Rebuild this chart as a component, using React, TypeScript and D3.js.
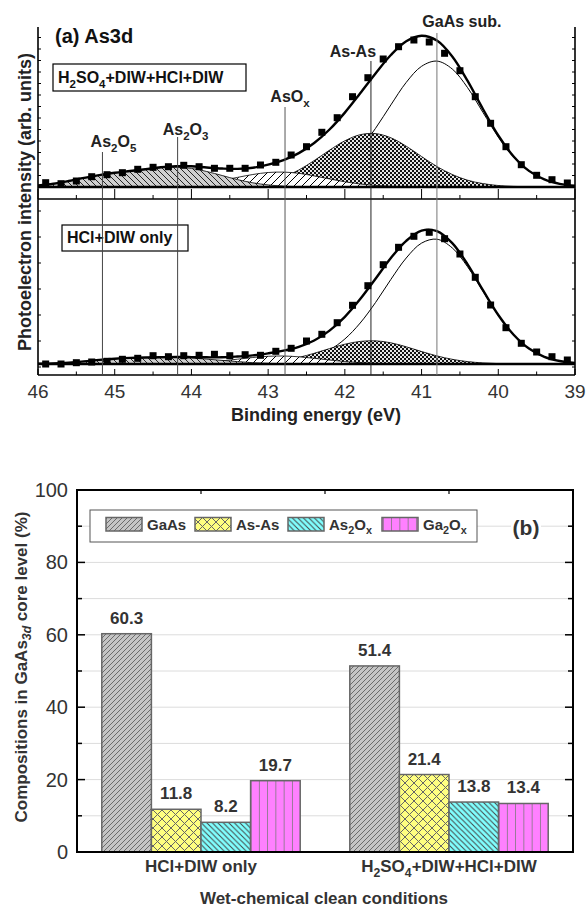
import React from 'react';
import * as d3 from 'd3';

// ---- (a) As3d spectra ----
// measured points, binding energy (eV)
const dataEnergy = [45.9, 45.7, 45.5, 45.3, 45.1, 44.9, 44.7, 44.5, 44.3, 44.1, 43.9, 43.7, 43.5, 43.3, 43.1, 42.9, 42.7, 42.5, 42.3, 42.1, 41.9, 41.7, 41.5, 41.3, 41.1, 40.9, 40.7, 40.5, 40.3, 40.1, 39.9, 39.7, 39.5, 39.3, 39.1];
const upperData = [4.3, 3.3, 6, 10.3, 12.3, 14.3, 17.7, 19.7, 20.3, 21.7, 20.3, 18.7, 18.7, 18.7, 22, 24.7, 32, 40.3, 54.7, 69.3, 90.3, 109.3, 128, 140.3, 147, 145, 133.7, 116.3, 90.3, 63.7, 40.3, 22.3, 11.7, 7.3, 4];
const lowerData = [0, 0, 1.3, 2, 2.7, 4.7, 5.7, 8.3, 7.3, 8.3, 8.7, 9.7, 8.3, 9.3, 8.7, 12.7, 15.7, 23, 29.7, 41.3, 58.7, 78.3, 99.3, 116.7, 127.7, 131.7, 125.3, 110, 86.7, 59, 36.3, 20.7, 12, 7.3, 4];

// fitted components, read on a 0.2 eV grid
const fitEnergy = [46.0, 45.8, 45.6, 45.4, 45.2, 45.0, 44.8, 44.6, 44.4, 44.2, 44.0, 43.8, 43.6, 43.4, 43.2, 43.0, 42.8, 42.6, 42.4, 42.2, 42.0, 41.8, 41.6, 41.4, 41.2, 41.0, 40.8, 40.6, 40.4, 40.2, 40.0, 39.8, 39.6, 39.4, 39.2, 39.0];

const upperAs2O5 = [1.5, 3.1, 5.4, 7.7, 8.9, 8.5, 6.6, 4.2, 2.2, 0.9, 0.3, 0, 0, 0, 0, 0, 0, 0, 0, 0, 0, 0, 0, 0, 0, 0, 0, 0, 0, 0, 0, 0, 0, 0, 0, 0];
const upperAs2O3 = [0.1, 0.2, 0.6, 1.4, 3.0, 5.7, 9.4, 13.6, 17.1, 18.9, 18.3, 15.5, 11.5, 7.4, 4.2, 2.1, 0.9, 0.3, 0.1, 0, 0, 0, 0, 0, 0, 0, 0, 0, 0, 0, 0, 0, 0, 0, 0, 0];
const upperAsOx = [0, 0, 0, 0, 0, 0, 0, 0, 0.4, 1.0, 2.1, 4.0, 6.6, 9.6, 12.5, 14.5, 14.9, 13.7, 11.1, 8.1, 5.2, 3.0, 1.5, 0.7, 0.3, 0.1, 0, 0, 0, 0, 0, 0, 0, 0, 0, 0];
const upperAsAs = [0, 0, 0, 0, 0, 0, 0, 0, 0, 0, 0, 0, 0.4, 1.1, 2.5, 5.2, 9.9, 17.0, 26.4, 36.8, 46.2, 52.3, 53.4, 49.2, 40.8, 30.5, 20.5, 12.5, 6.8, 3.4, 1.5, 0.6, 0.2, 0, 0, 0];
const upperGaAs = [0, 0, 0, 0, 0, 0, 0, 0, 0, 0, 0, 0, 0, 0, 0, 0.5, 1.2, 2.9, 6.4, 12.6, 23.0, 38.4, 58.7, 82.1, 104.6, 120.7, 125.9, 118.0, 99.3, 74.6, 50.0, 29.9, 15.9, 7.6, 3.2, 1.2];

const lowerAs2O5 = [0.2, 0.6, 1.2, 2.2, 3.1, 3.5, 3.1, 2.2, 1.2, 0.6, 0.2, 0, 0, 0, 0, 0, 0, 0, 0, 0, 0, 0, 0, 0, 0, 0, 0, 0, 0, 0, 0, 0, 0, 0, 0, 0];
const lowerAs2O3 = [0, 0, 0.2, 0.4, 1.0, 1.8, 3.0, 4.3, 5.4, 6.0, 5.8, 4.9, 3.6, 2.4, 1.3, 0.7, 0.3, 0.1, 0, 0, 0, 0, 0, 0, 0, 0, 0, 0, 0, 0, 0, 0, 0, 0, 0, 0];
const lowerAsOx = [0, 0, 0, 0, 0, 0, 0, 0, 0.1, 0.4, 0.9, 1.8, 3.1, 4.8, 6.5, 7.7, 8.0, 7.2, 5.7, 4.0, 2.4, 1.3, 0.6, 0.2, 0, 0, 0, 0, 0, 0, 0, 0, 0, 0, 0, 0];
const lowerAsAs = [0, 0, 0, 0, 0, 0, 0, 0, 0, 0, 0, 0, 0, 0.3, 0.8, 1.8, 3.6, 6.6, 10.7, 15.4, 19.8, 22.6, 23.2, 21.2, 17.2, 12.5, 8.1, 4.7, 2.4, 1.1, 0.4, 0.1, 0, 0, 0, 0];
const lowerGaAs = [0, 0, 0, 0, 0, 0, 0, 0, 0, 0, 0, 0, 0, 0, 0, 0.5, 1.4, 3.3, 7.1, 14.0, 25.0, 41.0, 61.5, 84.6, 106.0, 120.9, 124.8, 116.1, 97.2, 72.7, 48.6, 29.1, 15.4, 7.2, 3.0, 1.1];

const peakLabels = ['As_2O_5', 'As_2O_3', 'AsO_x', 'As-As', 'GaAs sub.'];
const peakEnergy = [45.16, 44.18, 42.78, 41.66, 40.8];
const energyTicks = [46, 45, 44, 43, 42, 41, 40, 39];

// ---- (b) compositions ----
const conditions = ['HCl+DIW only', 'H_2SO_4+DIW+HCl+DIW'];
const species = ['GaAs', 'As-As', 'As_2O_x', 'Ga_2O_x'];
const hclDiwValues = [60.3, 11.8, 8.2, 19.7];
const h2so4Values = [51.4, 21.4, 13.8, 13.4];
const compTicks = [0, 20, 40, 60, 80, 100];

const FONT = '"Liberation Sans", Arial, Helvetica, sans-serif';

// split "As_2O_5" into normal / subscript tspans
function chem(label: string, shift: number) {
  const parts = label.split(/_(.)/);
  const out: React.ReactNode[] = [];
  let down = false;
  parts.forEach((p, i) => {
    if (i % 2 === 1) {
      out.push(<tspan key={i} dy={shift} fontSize="0.72em">{p}</tspan>);
      down = true;
    } else if (p) {
      out.push(<tspan key={i} dy={down ? -shift : 0}>{p}</tspan>);
      down = false;
    }
  });
  return out;
}

export default function App() {
  const x = d3.scaleLinear().domain([46, 39]).range([38, 575]);
  const yUp = d3.scaleLinear().domain([0, 160]).range([187, 27]);
  const yLo = d3.scaleLinear().domain([-11, 165]).range([375, 199]);

  const panels = [
    { key: 'up', y: yUp, data: upperData, gaas: upperGaAs, asas: upperAsAs, asox: upperAsOx, o3: upperAs2O3, o5: upperAs2O5, clipTop: 20, clipBot: 187, ticks: d3.range(11.5, 160, 11.5) },
    { key: 'lo', y: yLo, data: lowerData, gaas: lowerGaAs, asas: lowerAsAs, asox: lowerAsOx, o3: lowerAs2O3, o5: lowerAs2O5, clipTop: 199, clipBot: 364, ticks: [-3, 23, 49, 75, 101, 127, 153] },
  ];

  const minorE = d3.range(39, 46.01, 0.5);
  const labelBase = [147, 135, 102, 57, 27];
  const labelDx = [11, 8, 5, -18, 25];
  const lineTop = [152, 137, 107, 61, 33];
  const lineColor = ['#444', '#444', '#555', '#222', '#777'];

  // bar chart scales
  const xb = d3.scaleBand().domain(conditions).range([77, 573]).paddingInner(0.2).paddingOuter(0.1);
  const xs = d3.scaleBand().domain(species).range([0, xb.bandwidth()]);
  const yb = d3.scaleLinear().domain([0, 100]).range([852, 490]);
  const barValues = [hclDiwValues, h2so4Values];
  const patIds = ['pGaAs', 'pAsAs', 'pAs2Ox', 'pGa2Ox'];
  const legendX = [106, 195, 288, 382];
  const stripe = xs.bandwidth() / 6;

  return (
    <svg width={586} height={909} style={{ position: 'absolute', left: 0, top: 0, background: '#fff' }} fontFamily={FONT}>
      <defs>
        <pattern id="checker" width={4} height={4} patternUnits="userSpaceOnUse">
          <rect width={4} height={4} fill="#111" />
          <rect width={2} height={2} fill="#e6e6e6" />
          <rect x={2} y={2} width={2} height={2} fill="#e6e6e6" />
        </pattern>
        <pattern id="hatchFwd" width={8} height={8} patternUnits="userSpaceOnUse">
          <rect width={8} height={8} fill="#fff" />
          <path d="M-2,2 L2,-2 M0,8 L8,0 M6,10 L10,6" stroke="#000" strokeWidth={1} />
        </pattern>
        <pattern id="hatchBack" width={6} height={6} patternUnits="userSpaceOnUse">
          <rect width={6} height={6} fill="#cfcfcf" />
          <path d="M0,0 L6,6 M-3,3 L3,9 M3,-3 L9,3" stroke="#111" strokeWidth={0.9} />
        </pattern>
        <pattern id="pGaAs" width={5} height={5} patternUnits="userSpaceOnUse">
          <rect width={5} height={5} fill="#c4c4c4" />
          <path d="M-1,1 L1,-1 M0,5 L5,0 M4,6 L6,4" stroke="#6a6a6a" strokeWidth={1} />
        </pattern>
        <pattern id="pAsAs" width={9} height={9} patternUnits="userSpaceOnUse">
          <rect width={9} height={9} fill="#ffff80" />
          <path d="M0,0 L9,9 M0,9 L9,0" stroke="#666" strokeWidth={1} />
        </pattern>
        <pattern id="pAs2Ox" width={5.5} height={5.5} patternUnits="userSpaceOnUse">
          <rect width={5.5} height={5.5} fill="#80ffff" />
          <path d="M0,0 L5.5,5.5 M-2.75,2.75 L2.75,8.25 M2.75,-2.75 L8.25,2.75" stroke="#444" strokeWidth={1} />
        </pattern>
        <pattern id="pGa2Ox" x={(xb(conditions[0]) ?? 0) + (xs('Ga_2O_x') ?? 0)} width={stripe} height={10} patternUnits="userSpaceOnUse">
          <rect width={stripe} height={10} fill="#ff80ff" />
          <line x1={0} x2={0} y1={0} y2={10} stroke="#777" strokeWidth={1.5} />
        </pattern>
        {panels.map(p => (
          <clipPath id={`clip-${p.key}`} key={p.key}>
            <rect x={38} y={p.clipTop} width={537} height={p.clipBot - p.clipTop} />
          </clipPath>
        ))}
      </defs>

      {/* ===== (a) ===== */}
      {panels.map(p => {
        const y = p.y;
        const areaOf = (vals: number[]) =>
          d3.area<number>().x((_, i) => x(fitEnergy[i])).y0(y(0)).y1(d => y(d)).curve(d3.curveCatmullRom)(vals) || '';
        const lineOf = (vals: number[]) =>
          d3.line<number>().x((_, i) => x(fitEnergy[i])).y(d => y(d)).curve(d3.curveCatmullRom)(vals) || '';
        const oxides = fitEnergy.map((_, i) => p.o5[i] + p.o3[i]);
        const total = fitEnergy.map((_, i) => p.gaas[i] + p.asas[i] + p.asox[i] + p.o3[i] + p.o5[i]);
        const gaasFrom = fitEnergy.map((e, i) => (e <= 43 ? p.gaas[i] : NaN));
        return (
          <g key={p.key}>
            <g clipPath={`url(#clip-${p.key})`}>
              <path d={d3.line<number>().defined(d => !isNaN(d)).x((_, i) => x(fitEnergy[i])).y(d => y(d)).curve(d3.curveCatmullRom)(gaasFrom) || ''} fill="none" stroke="#000" strokeWidth={1} />
              <path d={areaOf(p.asas)} fill="url(#checker)" stroke="#000" strokeWidth={0.8} />
              <path d={areaOf(p.asox)} fill="url(#hatchFwd)" stroke="#000" strokeWidth={0.8} />
              <path d={areaOf(oxides)} fill="url(#hatchBack)" stroke="#000" strokeWidth={0.8} />
              <path d={lineOf(total)} fill="none" stroke="#000" strokeWidth={2.4} />
            </g>
            {/* baseline */}
            <line x1={38} x2={575} y1={y(0)} y2={y(0)} stroke="#000" strokeWidth={2.5} />
            {/* y ticks, both sides */}
            {p.ticks.map(t => (
              <g key={t}>
                <line x1={38} x2={41} y1={y(t)} y2={y(t)} stroke="#000" strokeWidth={1} />
                <line x1={572} x2={575} y1={y(t)} y2={y(t)} stroke="#000" strokeWidth={1} />
              </g>
            ))}
          </g>
        );
      })}

      {/* frame of stacked panels */}
      <line x1={38} x2={38} y1={27} y2={375} stroke="#000" strokeWidth={1.6} />
      <line x1={575} x2={575} y1={27} y2={375} stroke="#000" strokeWidth={1.6} />
      <line x1={38} x2={575} y1={199} y2={199} stroke="#000" strokeWidth={1.4} />
      <line x1={38} x2={575} y1={375} y2={375} stroke="#000" strokeWidth={1.6} />
      {minorE.map(e => {
        const major = Math.abs(e - Math.round(e)) < 0.01;
        return (
          <g key={e}>
            <line x1={x(e)} x2={x(e)} y1={199} y2={major ? 189 : 195} stroke="#000" strokeWidth={1} />
            <line x1={x(e)} x2={x(e)} y1={375} y2={major ? 369 : 371.5} stroke="#000" strokeWidth={1} />
          </g>
        );
      })}
      {energyTicks.map(e => (
        <text key={e} x={x(e)} y={398} textAnchor="middle" fontSize={19} fill="#333">{e}</text>
      ))}
      <text x={316} y={421} textAnchor="middle" fontSize={18} fontWeight="bold" fill="#222">Binding energy (eV)</text>
      <text transform="translate(31,202) rotate(-90)" textAnchor="middle" fontSize={18} fontWeight="bold" fill="#222">Photoelectron intensity (arb. units)</text>

      <text x={55} y={43} fontSize={20} fontWeight="bold" fill="#111">(a) As3d</text>
      <rect x={53} y={64} width={193} height={27} fill="#fff" stroke="#000" strokeWidth={1.2} />
      <text x={58} y={83} fontSize={16} fontWeight="bold" fill="#111">{chem('H_2SO_4+DIW+HCl+DIW', 5)}</text>
      <rect x={62} y={225} width={126} height={26} fill="#fff" stroke="#000" strokeWidth={1.2} />
      <text x={67} y={243} fontSize={16} fontWeight="bold" fill="#111">HCl+DIW only</text>

      {peakEnergy.map((e, i) => (
        <g key={e}>
          <line x1={x(e)} x2={x(e)} y1={lineTop[i]} y2={375} stroke={lineColor[i]} strokeWidth={1} />
          <text x={x(e) + labelDx[i]} y={labelBase[i]} textAnchor="middle" fontSize={16} fontWeight="bold" fill="#222">{chem(peakLabels[i], 5)}</text>
        </g>
      ))}

      {panels.map(p => (
        <g key={p.key}>
          {p.data.map((v, i) => (
            <rect key={i} x={x(dataEnergy[i]) - 3.5} y={p.y(v) - 3.5} width={7} height={7} fill="#000" />
          ))}
        </g>
      ))}

      {/* ===== (b) ===== */}
      {d3.range(10, 100, 10).map(v => (
        <line key={v} x1={77} x2={573} y1={yb(v)} y2={yb(v)} stroke="#dcdcdc" strokeWidth={1} />
      ))}

      {conditions.map((c, gi) => (
        <g key={c}>
          {species.map((s, si) => {
            const v = barValues[gi][si];
            const bx = (xb(c) ?? 0) + (xs(s) ?? 0);
            return (
              <g key={s}>
                <rect x={bx} y={yb(v)} width={xs.bandwidth()} height={yb(0) - yb(v)} fill={`url(#${patIds[si]})`} stroke="#666" strokeWidth={1.5} />
                <text x={bx + xs.bandwidth() / 2} y={yb(v) - 10} textAnchor="middle" fontSize={17} fontWeight="bold" fill="#333">{v.toFixed(1)}</text>
              </g>
            );
          })}
          <text x={(xb(c) ?? 0) + xb.bandwidth() / 2} y={872} textAnchor="middle" fontSize={17} fontWeight="bold" fill="#333">{chem(c, 5)}</text>
        </g>
      ))}

      <rect x={77} y={490} width={496} height={362} fill="none" stroke="#000" strokeWidth={2} />
      {yb.ticks(10).map(v => {
        const major = v % 20 === 0;
        const len = major ? 8 : 5;
        return (
          <g key={v}>
            <line x1={77} x2={77 + len} y1={yb(v)} y2={yb(v)} stroke="#000" strokeWidth={1.5} />
            <line x1={573 - len} x2={573} y1={yb(v)} y2={yb(v)} stroke="#000" strokeWidth={1.5} />
          </g>
        );
      })}
      {[...conditions.map(c => (xb(c) ?? 0) + xb.bandwidth() / 2), (xb(conditions[1]) ?? 0) - xb.step() * 0.1].map((tx, i) => (
        <line key={i} x1={tx} x2={tx} y1={490} y2={494} stroke="#000" strokeWidth={1.2} />
      ))}
      {compTicks.map(v => (
        <text key={v} x={68} y={yb(v) + 7} textAnchor="end" fontSize={20} fill="#333">{v}</text>
      ))}

      {/* legend */}
      <rect x={90} y={510} width={387} height={32} fill="#fff" stroke="#555" strokeWidth={1} />
      {species.map((s, i) => (
        <g key={s}>
          <rect x={legendX[i]} y={517.5} width={36} height={13.5} fill={`url(#${patIds[i]})`} stroke="#666" strokeWidth={1.5} />
          <text x={legendX[i] + 41} y={529.5} fontSize={15} fontWeight="bold" fill="#333">{chem(s, 4)}</text>
        </g>
      ))}
      <rect x={511} y={512} width={30} height={28} fill="#fff" />
      <text x={526} y={535} textAnchor="middle" fontSize={21} fontWeight="bold" fill="#333">(b)</text>

      <text transform="translate(27,667) rotate(-90)" textAnchor="middle" fontSize={17} fontWeight="bold" fill="#333">
        <tspan>Compositions in GaAs</tspan>
        <tspan dy={4} fontSize="0.72em" fontStyle="italic">3d</tspan>
        <tspan dy={-4}> core level (%)</tspan>
      </text>
      <text x={324} y={904} textAnchor="middle" fontSize={17} fontWeight="bold" fill="#333">Wet-chemical clean conditions</text>
    </svg>
  );
}
